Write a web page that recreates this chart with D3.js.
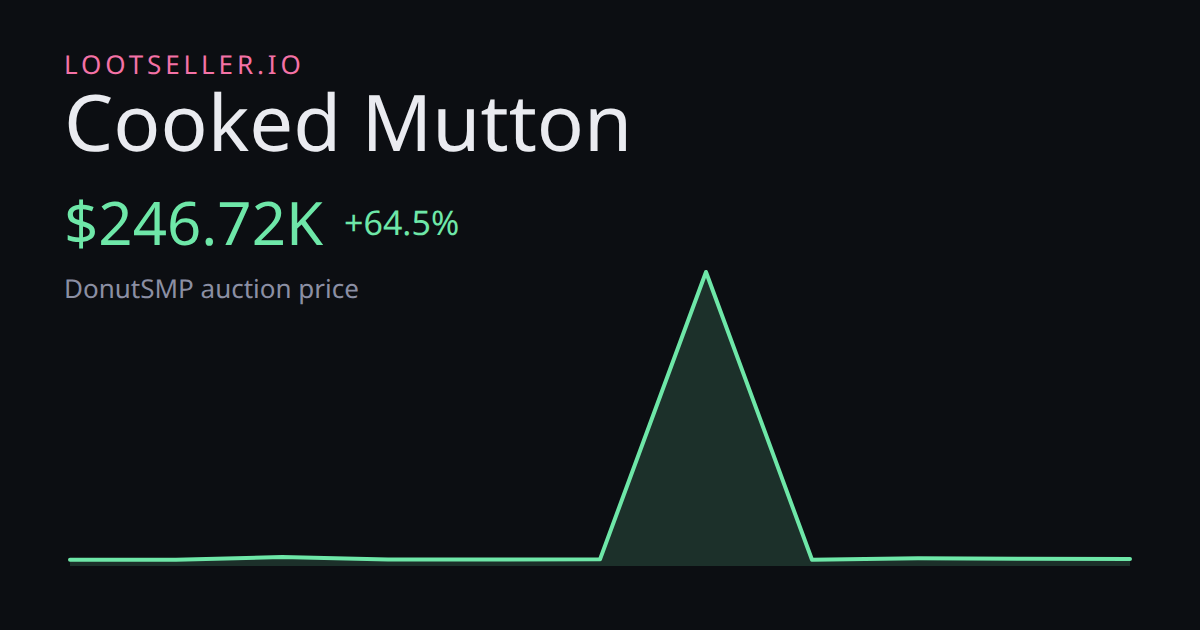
<!DOCTYPE html>
<html><head><meta charset="utf-8">
<script src="https://cdn.jsdelivr.net/npm/d3@7/dist/d3.min.js"></script>
<style>html,body{margin:0;padding:0;background:#0c0e12;}svg{display:block;}text{text-rendering:geometricPrecision;}</style>
</head><body><div id="chart"></div>
<script>
const brand = "LOOTSELLER.IO";
const itemName = "Cooked Mutton";
const priceLabel = "$246.72K";
const changeLabel = "+64.5%";
const subtitle = "DonutSMP auction price";
const steps = [0,1,2,3,4,5,6,7,8,9,10];
const prices = [220,222,317,232,232,235,10350,218,270,258,246.72];

const svg = d3.select("#chart").append("svg").attr("width",1200).attr("height",630);
svg.append("rect").attr("width",1200).attr("height",630).attr("fill","#0c0e12");
const x = d3.scaleLinear().domain([0,10]).range([70,1130]);
const y = d3.scaleLinear().domain([0,10350]).range([566,272]);
const area = d3.area().x((d,i)=>x(steps[i])).y0(y(0)).y1(d=>y(d));
const line = d3.line().x((d,i)=>x(steps[i])).y(d=>y(d));
svg.append("path").datum(prices).attr("d",area).attr("fill","#6ee7a8").attr("fill-opacity",0.16);
svg.append("path").datum(prices).attr("d",line).attr("fill","none").attr("stroke","#6ee7a8")
  .attr("stroke-width",4).attr("stroke-linejoin","round").attr("stroke-linecap","round");
const font = "'Noto Sans', sans-serif";
const t = (s,xx,yy,size,fill,ls)=>svg.append("text").attr("x",xx).attr("y",yy).attr("font-family",font)
  .attr("font-size",size).attr("fill",fill).attr("letter-spacing",ls||0).text(s);
t(brand,64,74,26,"#f472a6","3.9px");
t(itemName,64,151,78,"#eaebf0");
t(priceLabel,64,245,60,"#6ee7a8");
t(changeLabel,344,235,34,"#6ee7a8");
t(subtitle,64,298,26,"#8b8fa3");
</script></body></html>
